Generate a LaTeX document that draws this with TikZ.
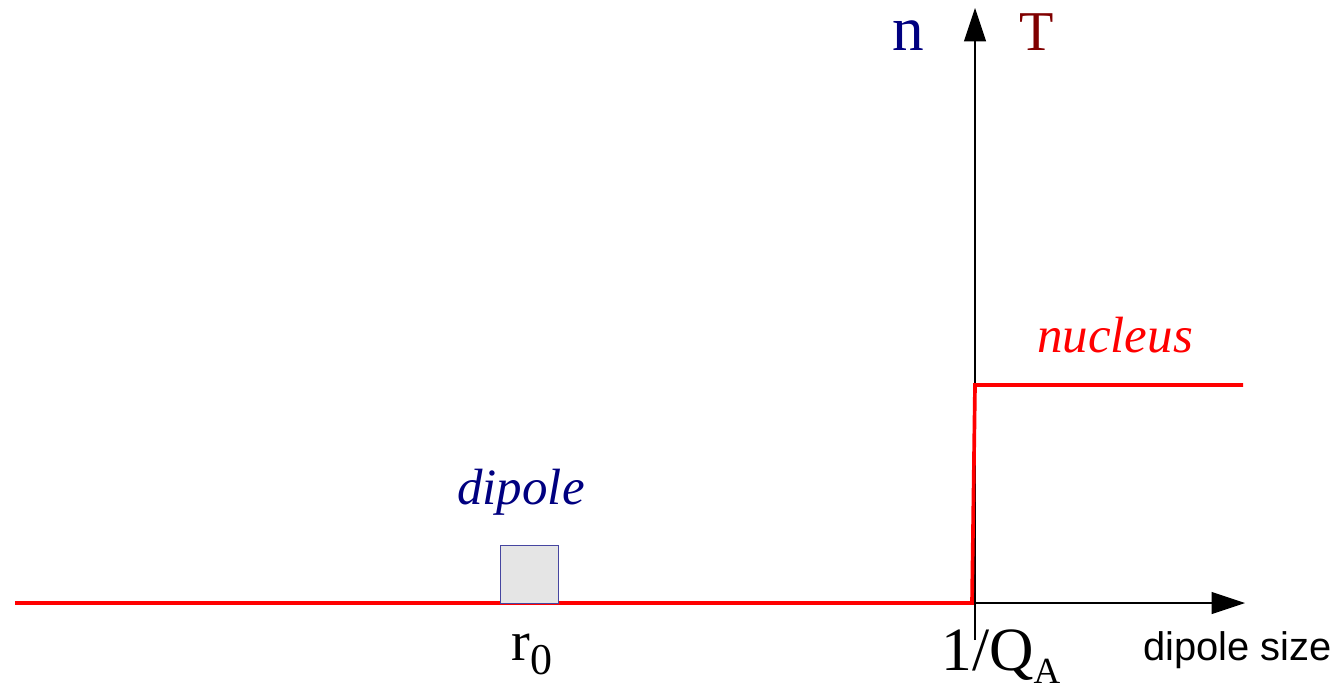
\documentclass[tikz,border=0pt]{standalone}
\usepackage{fontspec}
\setmainfont{Liberation Serif}
\newfontfamily\axsans{Liberation Sans}
\usetikzlibrary{arrows.meta}
\definecolor{dipnavy}{RGB}{0,0,128}
\definecolor{tdark}{RGB}{128,0,0}
\definecolor{boxedge}{RGB}{70,70,160}
\begin{document}
\begin{tikzpicture}[
  x=0.02cm, y=-0.02cm,
  dsaxis/.style = {line width=0.6pt, -{Triangle[length=19pt,width=12.5pt]}},
  dscurve/.style = {line width=2.1pt, red, line join=miter},
  dslbl/.style = {font=\fontsize{29}{29}\selectfont\itshape, anchor=base},
  dsvar/.style = {font=\fontsize{32}{32}\selectfont, anchor=base}
]
  \useasboundingbox (0,0) rectangle (1342,693);
  % axes
  \coordinate (O) at (975,603);
  \coordinate (ybot) at (975,640);
  \coordinate (ytop) at (975,8);
  \coordinate (xend) at (1245,603);
  \draw[dsaxis] (ybot) -- (ytop);
  \draw[dsaxis] (O) -- (xend);
  % step profile
  \coordinate (c0) at (15,603);
  \coordinate (c1) at (972,603);
  \coordinate (c2) at (975,385);
  \coordinate (c3) at (1243,385);
  \draw[dscurve] (c0) -- (c1) -- (c2) -- (c3);
  % dipole box
  \draw[fill=gray!20, draw=boxedge, line width=0.5pt] (500,545) rectangle (558,603);
  % labels
  \node[dsvar, dipnavy, font=\fontsize{36}{36}\selectfont] (nlbl) at (908,51) {n};
  \node[dsvar, tdark] (tlbl) at (1037,51) {T};
  \node[dslbl, dipnavy] (diplbl) at (521,504) {dipole};
  \node[dslbl, red] (nuclbl) at (1115,352) {nucleus};
  \node[dsvar, anchor=base west, inner sep=0pt] (rlbl) at (511,660)
    {r\raisebox{-8.5pt}{\fontsize{25}{25}\selectfont 0}};
  \node[dsvar, anchor=base west, inner sep=0pt, font=\fontsize{35}{35}\selectfont] (qlbl) at (941,670)
    {1/Q\raisebox{-7.5pt}{\fontsize{21}{21}\selectfont A}};
  \node[anchor=base west, inner sep=0pt, font=\axsans\fontsize{22.7}{22.7}\selectfont] (xlbl) at (1143,660) {dipole size};
\end{tikzpicture}
\end{document}
